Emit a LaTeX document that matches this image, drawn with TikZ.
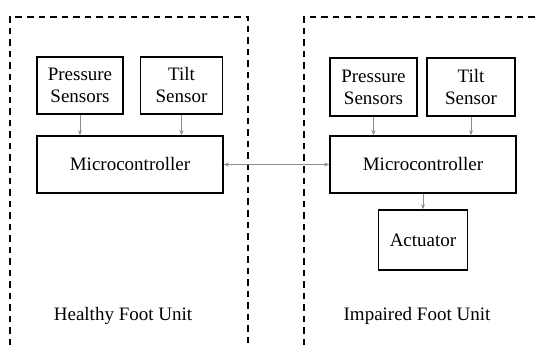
\documentclass[tikz,border=0pt]{standalone}
\usepackage{fontspec}
\setmainfont{Liberation Serif}
\newfontfamily\labelfont{Liberation Serif}
\usetikzlibrary{arrows.meta}
\begin{document}
\begin{tikzpicture}[x=1pt,y=-1pt,
  block/.style={draw=black,line width=1.6pt,align=center,inner sep=0pt,
    font=\labelfont\fontsize{19}{22}\selectfont},
  link/.style={draw=black!45,line width=0.9pt,-{Stealth[length=5pt,width=4pt]}},
  unitedge/.style={draw=black,line width=1.6pt,dash pattern=on 6.5pt off 5pt},
  unitlabel/.style={font=\labelfont\fontsize{19}{22}\selectfont}]
\useasboundingbox (0,0) rectangle (539,345);

% unit frames (open at the bottom of the page)
\draw[unitedge] (10,345) -- (10,17) -- (248,17) -- (248,345);
\draw[unitedge] (304,345) -- (304,17) -- (539,17);

% healthy foot unit
\node[block,minimum width=86pt,minimum height=57pt] (lp) at (80,85.5) {Pressure\\Sensors};
\node[block,minimum width=82pt,minimum height=57pt] (lt) at (181.5,85.5) {Tilt\\Sensor};
\node[block,minimum width=186pt,minimum height=57pt] (lm) at (130,164.5) {Microcontroller};

% impaired foot unit
\node[block,minimum width=87pt,minimum height=58pt] (rp) at (373.5,87) {Pressure\\Sensors};
\node[block,minimum width=88pt,minimum height=58pt] (rt) at (471,87) {Tilt\\Sensor};
\node[block,minimum width=186pt,minimum height=57pt] (rm) at (423,164.5) {Microcontroller};
\node[block,minimum width=89pt,minimum height=60pt] (act) at (423,240) {Actuator};

% connectors
\draw[link] (lp.south) -- (lp.south |- lm.north);
\draw[link] (lt.south) -- (lt.south |- lm.north);
\draw[link] (rp.south) -- (rp.south |- rm.north);
\draw[link] (rt.south) -- (rt.south |- rm.north);
\draw[link] (rm.south) -- (act.north);
\draw[link,{Stealth[length=5pt,width=4pt]}-{Stealth[length=5pt,width=4pt]}] (lm.east) -- (rm.west);

% unit captions
\node[unitlabel] (hl) at (123,316) {Healthy Foot Unit};
\node[unitlabel] (il) at (417,316) {Impaired Foot Unit};
\end{tikzpicture}
\end{document}
